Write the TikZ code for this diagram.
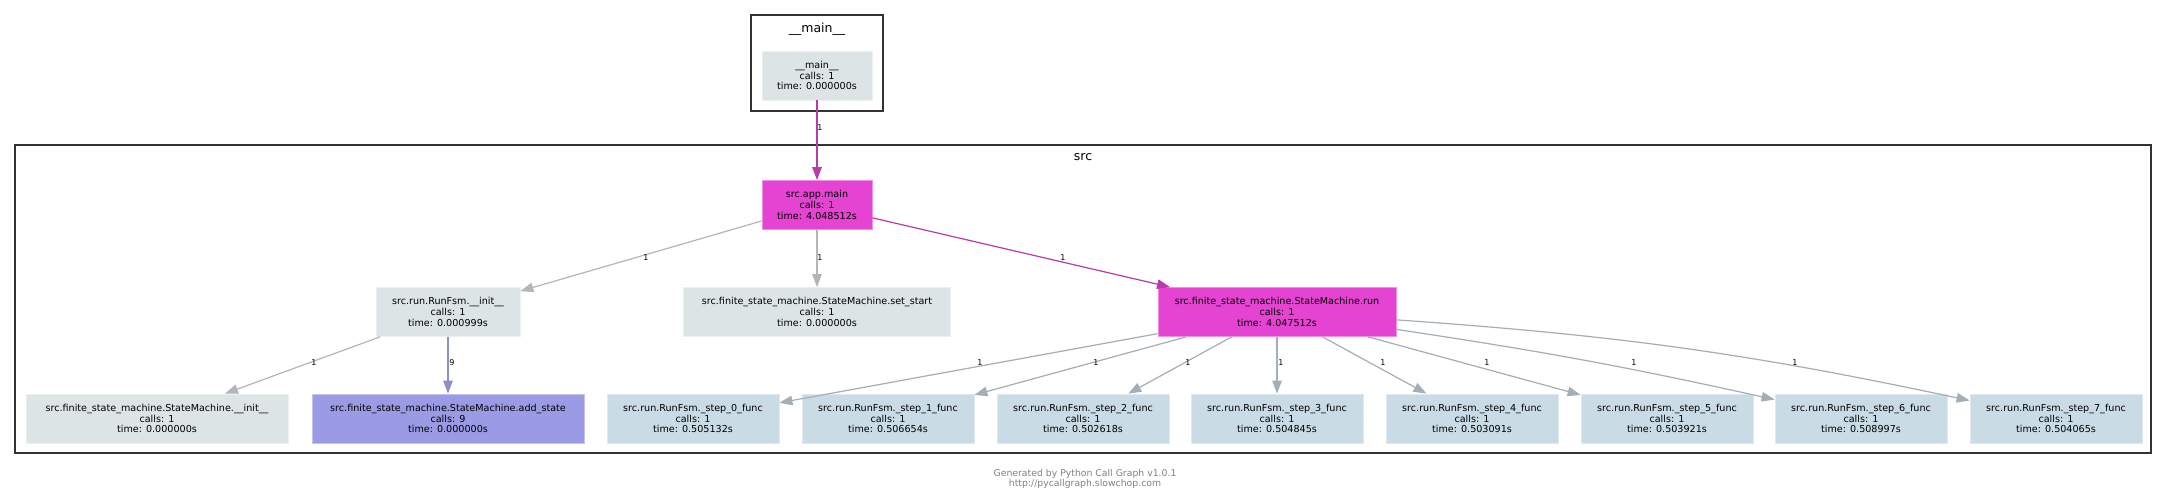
\documentclass[tikz,border=0pt]{standalone}
\usepackage{fontspec}
\setmainfont{DejaVu Sans}
\usetikzlibrary{arrows.meta}
\definecolor{ngray}{HTML}{DDE4E6}
\definecolor{nmag}{HTML}{E544D3}
\definecolor{nblue}{HTML}{C9DBE5}
\definecolor{npur}{HTML}{9B9BE5}
\definecolor{emag}{HTML}{B83BAC}
\definecolor{egray}{HTML}{B2B6B9}
\definecolor{epur}{HTML}{8E8EC8}
\definecolor{eblue}{HTML}{A3AEB7}
\definecolor{frame}{HTML}{333333}
\definecolor{foot}{HTML}{808080}
\begin{document}
\begin{tikzpicture}[x=1pt,y=-1pt,
  fn/.style={rectangle, inner sep=0pt, align=center, minimum height=49pt,
    font=\fontsize{9.6}{10.6}\selectfont, line width=0.8pt},
  gn/.style={fn, fill=ngray, draw=ngray!60!white},
  mn/.style={fn, fill=nmag, draw=nmag!60!white},
  bn/.style={fn, fill=nblue, draw=nblue!60!white, minimum width=172pt},
  pn/.style={fn, fill=npur, draw=npur!60!white},
  clusterbox/.style={rectangle, draw=frame, line width=2pt, inner sep=0pt},
  ctitle/.style={font=\fontsize{12.5}{14}\selectfont, inner sep=0pt},
  edge/.style={line width=1.2pt, -{Triangle[length=13pt,width=9.5pt]}},
  lab/.style={font=\fontsize{8}{9}\selectfont, inner sep=0pt}
]
\useasboundingbox (0,0) rectangle (2168,501);
\fill[white] (0,0) rectangle (2168,501);

% clusters
\node[clusterbox, minimum width=132pt, minimum height=96pt] (cmain) at (817,63) {};
\node[ctitle] (tmain) at (817,29) {\_\_main\_\_};
\node[clusterbox, minimum width=2136pt, minimum height=308pt] (csrc) at (1083,299) {};
\node[ctitle] (tsrc) at (1083,157) {src};

% nodes
\node[gn, minimum width=110pt] (main) at (817,75.5) {\_\_main\_\_\\calls: 1\\time: 0.000000s};
\node[mn, minimum width=110pt] (app) at (817,205) {src.app.main\\calls: 1\\time: 4.048512s};
\node[gn, minimum width=144pt] (init) at (448,312) {src.run.RunFsm.\_\_init\_\_\\calls: 1\\time: 0.000999s};
\node[gn, minimum width=267pt] (setstart) at (817,312) {src.finite\_state\_machine.StateMachine.set\_start\\calls: 1\\time: 0.000000s};
\node[mn, minimum width=238pt] (run) at (1277,312) {src.finite\_state\_machine.StateMachine.run\\calls: 1\\time: 4.047512s};
\node[gn, minimum width=262pt] (sminit) at (157,418.5) {src.finite\_state\_machine.StateMachine.\_\_init\_\_\\calls: 1\\time: 0.000000s};
\node[pn, minimum width=272pt] (add) at (448,418.5) {src.finite\_state\_machine.StateMachine.add\_state\\calls: 9\\time: 0.000000s};
\node[bn] (s0) at (693,418.5) {src.run.RunFsm.\_step\_0\_func\\calls: 1\\time: 0.505132s};
\node[bn] (s1) at (888,418.5) {src.run.RunFsm.\_step\_1\_func\\calls: 1\\time: 0.506654s};
\node[bn] (s2) at (1083,418.5) {src.run.RunFsm.\_step\_2\_func\\calls: 1\\time: 0.502618s};
\node[bn] (s3) at (1277,418.5) {src.run.RunFsm.\_step\_3\_func\\calls: 1\\time: 0.504845s};
\node[bn] (s4) at (1472,418.5) {src.run.RunFsm.\_step\_4\_func\\calls: 1\\time: 0.503091s};
\node[bn] (s5) at (1667,418.5) {src.run.RunFsm.\_step\_5\_func\\calls: 1\\time: 0.503921s};
\node[bn] (s6) at (1861,418.5) {src.run.RunFsm.\_step\_6\_func\\calls: 1\\time: 0.508997s};
\node[bn] (s7) at (2056,418.5) {src.run.RunFsm.\_step\_7\_func\\calls: 1\\time: 0.504065s};

% edges
\draw[edge, emag] (main) -- (app);
\draw[edge, egray] (app) -- (init);
\draw[edge, egray] (app) -- (setstart);
\draw[edge, emag] (app) -- (run);
\draw[edge, egray] (init) -- (sminit);
\draw[edge, epur] (init) -- (add);
\draw[edge, eblue] (run) -- (s0);
\draw[edge, eblue] (run) -- (s1);
\draw[edge, eblue] (run) -- (s2);
\draw[edge, eblue] (run) -- (s3);
\draw[edge, eblue] (run) -- (s4);
\draw[edge, eblue] (run) -- (s5);
\draw[edge, eblue] (run) to[bend left=2] (s6);
\draw[edge, eblue] (run) to[bend left=4] (s7);

% edge labels
\node[lab] (l0) at (820,128) {1};
\node[lab] (l1) at (646,258) {1};
\node[lab] (l2) at (820,258) {1};
\node[lab] (l3) at (1063,258) {1};
\node[lab] (l4) at (314,363) {1};
\node[lab] (l5) at (452,363) {9};
\node[lab] (l6) at (980,363) {1};
\node[lab] (l7) at (1096,363) {1};
\node[lab] (l8) at (1188,363) {1};
\node[lab] (l9) at (1281,363) {1};
\node[lab] (l10) at (1383,363) {1};
\node[lab] (l11) at (1487,363) {1};
\node[lab] (l12) at (1634,363) {1};
\node[lab] (l13) at (1795,363) {1};

% footer
\node[font=\fontsize{9.3}{10}\selectfont, text=foot, align=center, inner sep=0pt] (footer) at (1085,479)
  {Generated by Python Call Graph v1.0.1\\http://pycallgraph.slowchop.com};
\end{tikzpicture}
\end{document}
